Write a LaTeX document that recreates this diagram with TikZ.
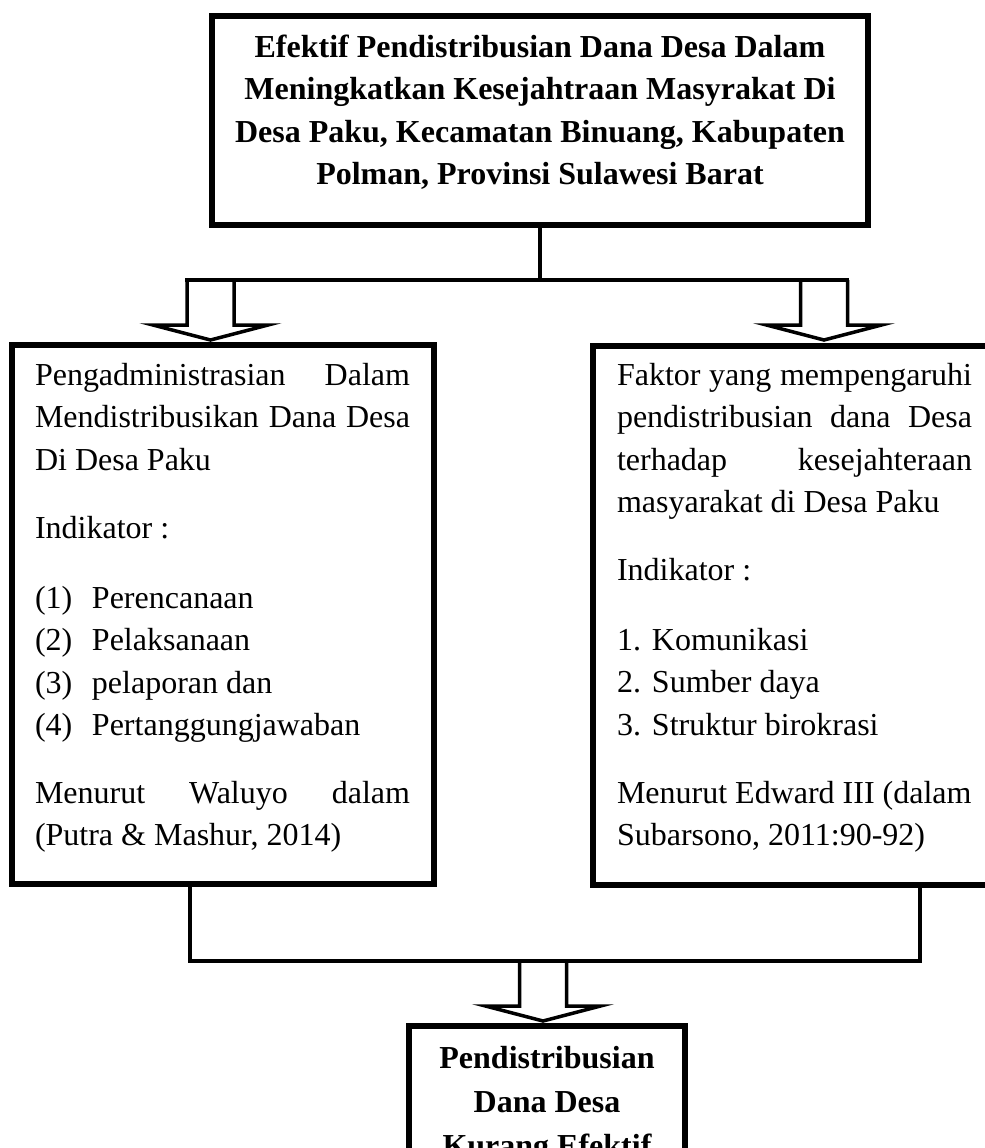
\documentclass[tikz,border=0pt]{standalone}
\usepackage{fontspec}
\setmainfont{Liberation Serif}
\usetikzlibrary{calc}
\newcommand\jline[1]{\makebox[\linewidth][s]{#1}}
\tikzset{
  box/.style={draw=black, line width=3pt, inner sep=0pt, outer sep=0pt},
  conn/.style={draw=black, line width=1.75pt, line join=miter},
  txt/.style={inner sep=0pt, outer sep=0pt, anchor=base west, font=\fontsize{16pt}{21.25pt}\selectfont},
  harrow/.pic={\draw[conn] (-23.5,0) -- (-23.5,45) -- (-57.5,45) -- (0,60) -- (57.5,45) -- (23.5,45) -- (23.5,0);}
}
\begin{document}
\begin{tikzpicture}[x=0.5pt,y=-0.5pt]
\useasboundingbox (0,0) rectangle (985,1148);
\clip (0,0) rectangle (985,1148);
\fill[white] (0,0) rectangle (985,1148);

% boxes
\node[box, minimum width=328pt, minimum height=104.5pt] (top) at (540,120.5) {};
\node[box, minimum width=211pt, minimum height=269.5pt] (left) at (223,614.5) {};
\node[box, minimum width=206pt, minimum height=269.5pt] (right) at (799,615.5) {};
\node[box, minimum width=138pt, minimum height=112pt] (bottom) at (547,1138) {};

% top text
\node[txt, anchor=base] (ttop) at (540,57) {\parbox[t]{330pt}{\centering\bfseries
Efektif Pendistribusian Dana Desa Dalam\\
Meningkatkan Kesejahtraan Masyrakat Di\\
Desa Paku, Kecamatan Binuang, Kabupaten\\
Polman, Provinsi Sulawesi Barat}};

% left text
\node[txt] (la) at (35,385) {\parbox[t]{187.5pt}{%
\jline{Pengadministrasian Dalam}\\
\jline{Mendistribusikan Dana Desa}\\
Di Desa Paku}};
\node[txt] (lb) at (35,538) {Indikator :};
\node[txt] (lc) at (35,608) {\parbox[t]{187.5pt}{%
\makebox[28.5pt][l]{(1)}Perencanaan\\
\makebox[28.5pt][l]{(2)}Pelaksanaan\\
\makebox[28.5pt][l]{(3)}pelaporan dan\\
\makebox[28.5pt][l]{(4)}Pertanggungjawaban}};
\node[txt] (ld) at (35,803) {\parbox[t]{187.5pt}{%
\jline{Menurut Waluyo dalam}\\
(Putra \& Mashur, 2014)}};

% right text
\node[txt] (ra) at (617,385) {\parbox[t]{177.5pt}{%
\jline{Faktor yang mempengaruhi}\\
\jline{pendistribusian dana Desa}\\
\jline{terhadap kesejahteraan}\\
masyarakat di Desa Paku}};
\node[txt] (rb) at (617,580) {Indikator :};
\node[txt] (rc) at (617,650) {\parbox[t]{177.5pt}{%
\makebox[17.5pt][l]{1.}Komunikasi\\
\makebox[17.5pt][l]{2.}Sumber daya\\
\makebox[17.5pt][l]{3.}Struktur birokrasi}};
\node[txt] (rd) at (617,803) {\parbox[t]{180pt}{%
Menurut Edward III (dalam\\
Subarsono, 2011:90-92)}};

% bottom text
\node[txt, anchor=base] (tbot) at (547,1068) {\parbox[t]{130pt}{\centering\bfseries\fontsize{16pt}{22pt}\selectfont
Pendistribusian\\
Dana Desa\\
Kurang Efektif}};

% connectors top
\coordinate (yh) at (0,280);
\coordinate (jl) at (187,280);
\coordinate (jr) at (847,280);
\draw[conn] (top.south) -- (top.south |- yh);
\draw[conn, line cap=rect] (jl) -- (jr);
\pic at (210.5,280) {harrow};
\pic at (824,280) {harrow};

% connectors bottom
\coordinate (yb) at (0,961);
\coordinate (lx) at (190,0);
\coordinate (rx) at (920,0);
\draw[conn] (left.south -| lx) -- (lx |- yb) -- (rx |- yb) -- (right.south -| rx);
\pic at (543,961) {harrow};
\end{tikzpicture}
\end{document}
